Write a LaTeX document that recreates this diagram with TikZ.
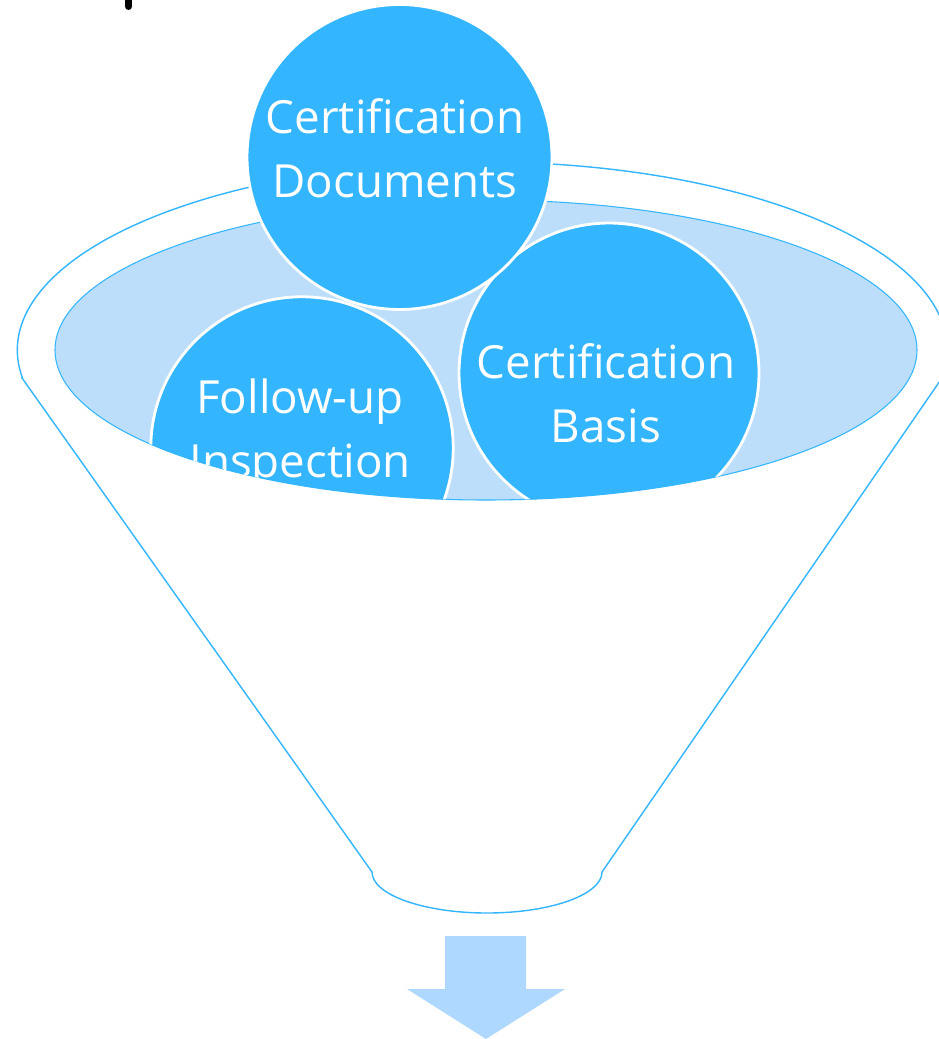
\documentclass[tikz,border=0pt]{standalone}
\usepackage{fontspec}
\setmainfont{Open Sans}[Ligatures=CommonOff]
\usepackage[svgnames]{xcolor}
\usepackage{tikz}
\usetikzlibrary{backgrounds}
\pgfdeclarelayer{edgelayer}
\pgfdeclarelayer{nodelayer}
\pgfsetlayers{edgelayer,nodelayer,main}
\definecolor{bubbleblue}{RGB}{51,181,255}
\definecolor{paleblue}{RGB}{189,222,251}
\definecolor{arrowblue}{RGB}{174,216,255}
\tikzstyle{funnel}=[draw=bubbleblue,line width=0.8,fill=white]
\tikzstyle{mouth}=[draw=bubbleblue,line width=0.6,fill=paleblue]
\tikzstyle{bubble}=[circle,fill=bubbleblue,draw=white,line width=1.6]
\tikzstyle{caption}=[text=white,align=center,anchor=base,inner sep=0pt,font=\fontsize{26}{36}\selectfont]
\tikzstyle{outarrow}=[fill=arrowblue,draw=none]

\begin{document}
\begin{tikzpicture}[x=0.02cm,y=-0.02cm]
	\useasboundingbox (0,0) rectangle (939,1039);
	% stroke of the cut-off heading
	\fill (125,0) rectangle (132,6.5);
	\fill (128.5,6.5) circle (3.5);
	\begin{pgfonlayer}{edgelayer}
		\draw [style=funnel] (22,378) -- (372,872)
			arc [start angle=180, end angle=0, x radius=115, y radius=41]
			-- (942,378)
			arc [start angle=8.6, end angle=-188.6, x radius=465, y radius=188] -- cycle;
		\draw [style=mouth] (486,350) ellipse [x radius=431, y radius=150];
		\fill [style=outarrow] (445,936) -- (526,936) -- (526,989) -- (565,989)
			-- (486,1039) -- (407,989) -- (445,989) -- cycle;
	\end{pgfonlayer}
	\begin{pgfonlayer}{nodelayer}
		\begin{scope}
			\clip (-10,-10) -- (950,-10) -- (950,350) -- (917,350)
				arc [start angle=0, end angle=180, x radius=431, y radius=150]
				-- (-10,350) -- cycle;
			\node [style=bubble, minimum size=6.05cm] (follow) at (302,448) {};
			\node [style=bubble, minimum size=6cm] (basis) at (609,373) {};
			\node [style=bubble, minimum size=6.1cm] (docs) at (399.5,157) {};
			% base anchor sits on the last line
			\node [style=caption] (followtext) at (300,477) {Follow-up\\Inspection};
			\node [style=caption] (basistext) at (606,442) {Certification\\Basis};
			\node [style=caption] (docstext) at (395,197) {Certification\\Documents};
		\end{scope}
	\end{pgfonlayer}
\end{tikzpicture}
\end{document}
